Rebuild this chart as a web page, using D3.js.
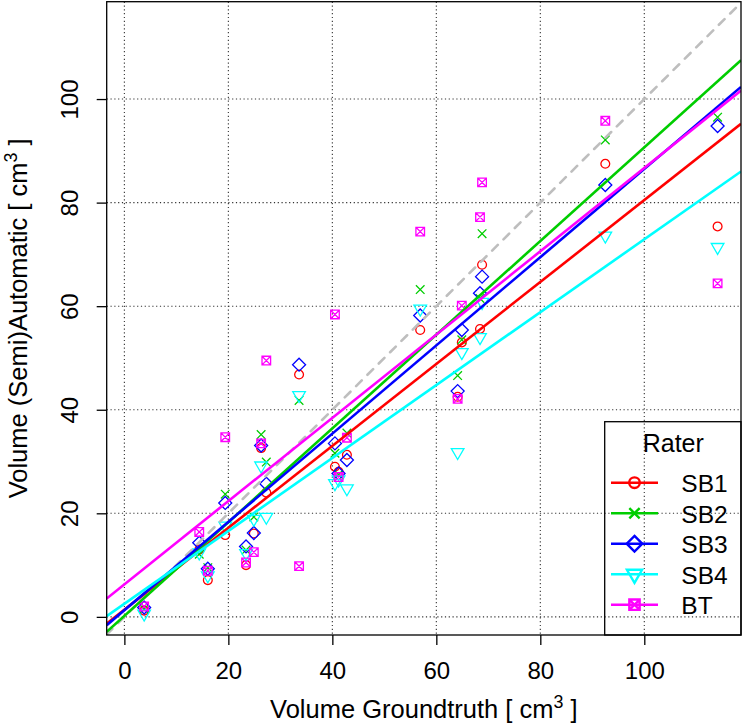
<!DOCTYPE html>
<html><head><meta charset="utf-8">
<script src="https://cdn.jsdelivr.net/npm/d3@7"></script>
<style>
body{margin:0;background:#fff}
svg{display:block}
text{font-family:"Liberation Sans",Arial,Helvetica,sans-serif;white-space:pre;fill:#000}
</style>
</head><body>
<svg id="chart" width="742" height="725"></svg>
<script>
// ---- data ----
const groundtruth = [3.8, 14.4, 16.05, 19.4, 23.4, 24.9, 26.3, 27.3, 33.6, 40.5, 41.2, 42.8, 56.9, 64.1, 64.9, 68.4, 68.8, 92.5, 114.1];
const raters = ["SB1", "SB2", "SB3", "SB4", "BT"];
const sb1 = [1.2, 13.0, 7.1, 15.8, 10.0, 16.1, 32.6, 24.0, 46.8, 29.0, 28.0, 31.3, 55.4, 42.5, 53.0, 55.6, 68.0, 87.5, 75.4];
const sb2 = [1.5, 12.1, 9.5, 23.7, 12.9, 19.3, 35.2, 29.9, 41.8, 31.6, 27.5, 35.5, 63.2, 46.6, 53.5, 61.5, 74.0, 92.1, 96.5];
const sb3 = [1.8, 14.3, 9.3, 22.0, 13.6, 16.2, 33.1, 25.7, 48.7, 33.5, 27.7, 30.3, 58.2, 43.6, 55.4, 62.5, 65.7, 83.4, 94.8];
const sb4 = [0.6, 12.4, 8.0, 17.6, 12.3, 18.9, 29.2, 19.3, 42.8, 25.8, 26.5, 24.8, 59.5, 31.8, 51.1, 54.0, 60.8, 73.6, 71.4];
const bt  = [2.0, 16.4, 8.9, 34.7, 10.5, 12.5, 33.5, 49.5, 9.8, 58.4, 27.0, 34.6, 74.4, 42.1, 60.1, 77.2, 83.9, 95.8, 64.4];
// fitted regression lines per rater (intercept, slope)
const fitIntercept = [1.39, 0.18, 1.30, 2.52, 6.28];
const fitSlope     = [0.791, 0.905, 0.852, 0.704, 0.804];
const xTicks = [0, 20, 40, 60, 80, 100];
const yTicks = [0, 20, 40, 60, 80, 100];
const xDomain = [-3.4, 118.6];
const yDomain = [-3.5, 118.8];

// ---- styles ----
const colors  = ["#FF0000", "#00CD00", "#0000FF", "#00FFFF", "#FF00FF"];
const symbols = ["circle", "cross", "diamond", "triDown", "boxX"];
const series = [sb1, sb2, sb3, sb4, bt];

const FS = 24, FT = 25.5;
const L = 106.7, R = 741, T = 1.7, B = 635;
const svg = d3.select("#chart");
const x = d3.scaleLinear().domain(xDomain).range([L, R]);
const y = d3.scaleLinear().domain(yDomain).range([B, T]);

function symPath(type, k) {
  const s = 4.3 * k, d = 6.5 * k, r = 7.3 * k;
  switch (type) {
    case "circle": { const c = 4.4 * k; return `M${c},0A${c},${c} 0 1,1 ${-c},0A${c},${c} 0 1,1 ${c},0Z`; }
    case "cross": return `M${-s},${-s}L${s},${s}M${-s},${s}L${s},${-s}`;
    case "diamond": return `M0,${-d}L${d},0L0,${d}L${-d},0Z`;
    case "triDown": return `M0,${r}L${r*0.866},${-r/2}L${-r*0.866},${-r/2}Z`;
    case "boxX": return `M${-s},${-s}H${s}V${s}H${-s}ZM${-s},${-s}L${s},${s}M${-s},${s}L${s},${-s}`;
  }
}

svg.append("defs").append("clipPath").attr("id", "plotclip")
  .append("rect").attr("x", L).attr("y", T).attr("width", R - L).attr("height", B - T);

// grid
const grid = svg.append("g").attr("stroke", "#333").attr("stroke-width", 1.1).attr("stroke-dasharray", "1.2,2.6");
grid.selectAll(".gx").data(xTicks).join("line")
  .attr("x1", d => x(d)).attr("x2", d => x(d)).attr("y1", T).attr("y2", B);
grid.selectAll(".gy").data(yTicks).join("line")
  .attr("y1", d => y(d)).attr("y2", d => y(d)).attr("x1", L).attr("x2", R);

const plot = svg.append("g").attr("clip-path", "url(#plotclip)");

// points
series.forEach((vals, i) => {
  plot.append("g").selectAll("path").data(vals).join("path")
    .attr("transform", (v, j) => `translate(${x(groundtruth[j])},${y(v)})`)
    .attr("d", symPath(symbols[i], 1))
    .attr("fill", "none").attr("stroke", colors[i]).attr("stroke-width", 1.3);
});

// identity line
plot.append("line")
  .attr("x1", x(xDomain[0])).attr("y1", y(xDomain[0]))
  .attr("x2", x(xDomain[1])).attr("y2", y(xDomain[1]))
  .attr("stroke", "#BEBEBE").attr("stroke-width", 2.6)
  .attr("stroke-dasharray", "8,8").attr("stroke-linecap", "round");

// regression lines
raters.forEach((r, i) => {
  plot.append("line")
    .attr("x1", x(xDomain[0])).attr("y1", y(fitIntercept[i] + fitSlope[i] * xDomain[0]))
    .attr("x2", x(xDomain[1])).attr("y2", y(fitIntercept[i] + fitSlope[i] * xDomain[1]))
    .attr("stroke", colors[i]).attr("stroke-width", 2.6);
});

// axes
const xAxis = svg.append("g").attr("transform", `translate(0,${B})`)
  .call(d3.axisBottom(x).tickValues(xTicks).tickSize(10).tickPadding(17).tickFormat(d3.format("d")));
xAxis.select(".domain").remove();
xAxis.selectAll("line").attr("stroke", "#000").attr("stroke-width", 1.3);
xAxis.selectAll("text").attr("font-size", FS).attr("font-family", null);

const yAxis = svg.append("g").attr("transform", `translate(${L},0)`)
  .call(d3.axisLeft(y).tickValues(yTicks).tickSize(10).tickFormat(d3.format("d")));
yAxis.select(".domain").remove();
yAxis.selectAll("line").attr("stroke", "#000").attr("stroke-width", 1.3);
yAxis.selectAll("text").attr("font-size", FS).attr("font-family", null)
  .attr("x", 0).attr("y", -(L - 78)).attr("dy", null)
  .attr("text-anchor", "middle").attr("transform", "rotate(-90)");

// box
svg.append("rect").attr("x", L).attr("y", T).attr("width", R - L).attr("height", B - T)
  .attr("fill", "none").attr("stroke", "#000").attr("stroke-width", 1.3);

// axis titles
const xt = svg.append("text").attr("x", (L + R) / 2).attr("y", 718.3)
  .attr("text-anchor", "middle").attr("font-size", FT);
xt.append("tspan").text("Volume Groundtruth [ cm");
xt.append("tspan").attr("dy", -10).attr("font-size", FT * 0.7).text("3");
xt.append("tspan").attr("dy", 10).text(" ]");

const yt = svg.append("text").attr("transform", `translate(27,${(T + B) / 2}) rotate(-90)`)
  .attr("text-anchor", "middle").attr("font-size", FT);
yt.append("tspan").text("Volume (Semi)Automatic [ cm");
yt.append("tspan").attr("dy", -10).attr("font-size", FT * 0.7).text("3");
yt.append("tspan").attr("dy", 10).text(" ]");

// legend
const lg = svg.append("g");
lg.append("rect").attr("x", 604.7).attr("y", 421.7).attr("width", R - 604.7).attr("height", B - 421.7)
  .attr("fill", "none").attr("stroke", "#000").attr("stroke-width", 1.3);
lg.append("text").attr("x", 673.3).attr("y", 452.3).attr("text-anchor", "middle")
  .attr("font-size", 25).text("Rater");
raters.forEach((r, i) => {
  const base = 492 + i * 30.5, cy = base - 9.3;
  lg.append("line").attr("x1", 611).attr("x2", 658).attr("y1", cy).attr("y2", cy)
    .attr("stroke", colors[i]).attr("stroke-width", 2.6);
  lg.append("path").attr("transform", `translate(634.5,${cy})`).attr("d", symPath(symbols[i], 1.2))
    .attr("fill", "none").attr("stroke", colors[i]).attr("stroke-width", 2.4);
  lg.append("text").attr("x", 681.3).attr("y", base).attr("font-size", 24.5).text(r);
});
</script>
</body></html>
